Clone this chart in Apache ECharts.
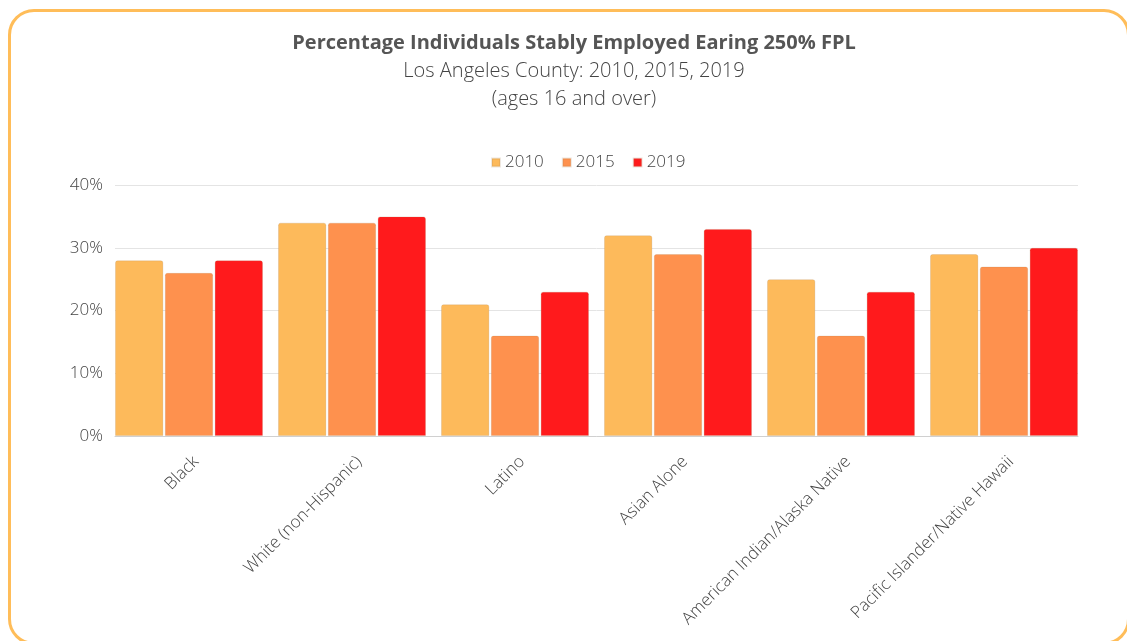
<!DOCTYPE html>
<html>
<head>
<meta charset="utf-8">
<script src="https://cdn.jsdelivr.net/npm/echarts@6/dist/echarts.min.js"></script>
<style>
  html, body { margin: 0; padding: 0; background: #fff; overflow: hidden; }
  #frame {
    position: absolute; left: 8px; top: 9px; width: 1116px; height: 630px;
    border: 3px solid #FFBD59; border-radius: 26px;
  }
  #main { position: absolute; left: 0; top: 0; width: 1127px; height: 641px; }
</style>
</head>
<body>
<div id="frame"></div>
<div id="main"></div>
<script>
const groups = [
  "Black",
  "White (non-Hispanic)",
  "Latino",
  "Asian Alone",
  "American Indian/Alaska Native",
  "Pacific Islander/Native Hawaii"
];
const years = ["2010", "2015", "2019"];
const values2010 = [28, 34, 21, 32, 25, 29];
const values2015 = [26, 34, 16, 29, 16, 27];
const values2019 = [28, 35, 23, 33, 23, 30];
const yTicks = [0, 10, 20, 30, 40];

const colors = ["#FDBA5B", "#FE914E", "#FF1A1C"];
const font = "'Open Sans', sans-serif";

const chart = echarts.init(document.getElementById("main"));

const makeSeries = function(name, data, color) {
  return {
    name: name,
    type: "bar",
    xAxisIndex: 0,
    yAxisIndex: 0,
    data: data,
    barGap: "3%",
    barCategoryGap: "9.2%",
    itemStyle: {
      color: color,
      borderRadius: [2, 2, 0, 0],
      borderColor: "rgba(160,120,80,0.18)",
      borderWidth: 1
    }
  };
};

const valueAxis = function(idx) {
  return {
    type: "value",
    gridIndex: idx,
    min: yTicks[0],
    max: yTicks[yTicks.length - 1],
    interval: 10,
    show: false,
    splitLine: { show: false }
  };
};

chart.setOption({
  animation: false,
  color: colors,
  title: [
    {
      text: "Percentage Individuals Stably Employed Earing 250% FPL",
      left: 569,
      textAlign: "center",
      top: 28,
      textStyle: { fontFamily: font, fontSize: 20, fontWeight: "bold", color: "#555555" }
    },
    {
      text: "Los Angeles County: 2010, 2015, 2019\n(ages 16 and over)",
      left: 569,
      textAlign: "center",
      top: 52,
      textStyle: { fontFamily: font, fontSize: 20, fontWeight: 300, color: "#444444", lineHeight: 28 }
    }
  ],
  legend: {
    data: years,
    left: 486,
    top: 149,
    icon: "rect",
    itemWidth: 8,
    itemHeight: 8,
    itemGap: 18,
    textStyle: { fontFamily: font, fontSize: 17, fontWeight: 300, color: "#444444" }
  },
  // grid 0: bars (widened so the outer bars touch the plot edges)
  // grid 1: gridlines, y labels and baseline over the real plot area
  // grid 2: category labels, nudged right to sit like the original
  grid: [
    { left: 107.5, right: 41.5, top: 185, bottom: 205 },
    { left: 115, right: 49, top: 185, bottom: 205 },
    { left: 114.5, right: 34.5, top: 185, bottom: 205 }
  ],
  xAxis: [
    {
      type: "category",
      gridIndex: 0,
      data: groups,
      axisTick: { show: false },
      axisLine: { show: false },
      axisLabel: { show: false }
    },
    {
      type: "category",
      gridIndex: 1,
      data: groups,
      z: 3,
      axisTick: { show: false },
      axisLabel: { show: false },
      axisLine: { lineStyle: { color: "#d0d0d0" } }
    },
    {
      type: "category",
      gridIndex: 2,
      data: groups,
      axisTick: { show: false },
      axisLine: { show: false },
      axisLabel: {
        interval: 0,
        rotate: 45,
        margin: 23,
        fontFamily: font,
        fontSize: 17,
        fontWeight: 300,
        color: "#444444"
      }
    }
  ],
  yAxis: [
    valueAxis(0),
    {
      type: "value",
      gridIndex: 1,
      min: yTicks[0],
      max: yTicks[yTicks.length - 1],
      interval: 10,
      z: 0,
      axisLine: { show: false },
      axisTick: { show: false },
      splitLine: { lineStyle: { color: "#e4e4e4" } },
      axisLabel: {
        formatter: "{value}%",
        margin: 12,
        fontFamily: font,
        fontSize: 17,
        fontWeight: 300,
        color: "#444444"
      }
    },
    valueAxis(2)
  ],
  series: [
    makeSeries(years[0], values2010, colors[0]),
    makeSeries(years[1], values2015, colors[1]),
    makeSeries(years[2], values2019, colors[2])
  ]
});
</script>
</body>
</html>
